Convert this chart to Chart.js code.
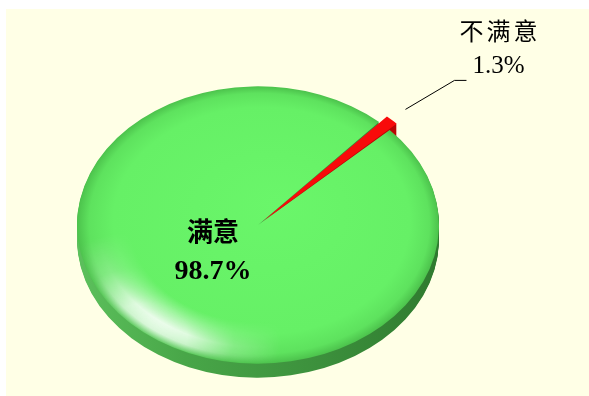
<!DOCTYPE html>
<html>
<head>
<meta charset="utf-8">
<script src="https://cdn.jsdelivr.net/npm/chart.js@4.4.1/dist/chart.umd.min.js"></script>
<style>
  html, body { margin: 0; padding: 0; background: #ffffff; }
  #stage { position: relative; width: 589px; height: 396px; overflow: hidden; background: #ffffff; }
  #paper { position: absolute; left: 6px; top: 9px; right: 0; bottom: 0; background: #FFFFE6; }
  #c { position: absolute; left: 0; top: 0; }
</style>
</head>
<body>
<div id="stage">
  <div id="paper"></div>
  <canvas id="c" width="589" height="396"></canvas>
</div>
<script>
// Survey result: share of respondents
const categories = ['不满意', '满意'];
const shares = [1.3, 98.7];
const shareLabels = ['1.3%', '98.7%'];

// Look of the tilted disc
const PIE_RADIUS = 181;   // horizontal radius in px
const TILT = 0.766;       // vertical squash of the disc
const DEPTH = 14;         // thickness of the disc in px
const START_ANGLE = 42;   // degrees clockwise from 12 o'clock
const topColors = ['#f80a0a', '#66f066'];
const sideColors = ['#b80505', '#3f953f'];

function applyTilt(ctx, cx, cy) {
  ctx.translate(cx, cy);
  ctx.scale(1, TILT);
  ctx.translate(-cx, -cy);
}

function topFill(context) {
  const i = context.dataIndex;
  const chart = context.chart;
  const area = chart.chartArea;
  if (!area || i === 0) return topColors[i];
  const cx = (area.left + area.right) / 2;
  const cy = (area.top + area.bottom) / 2;
  const g = chart.ctx.createRadialGradient(cx + 20, cy - 30, 0, cx, cy, PIE_RADIUS);
  g.addColorStop(0, '#6af66a');
  g.addColorStop(0.82, '#66f066');
  g.addColorStop(0.94, '#5ee25e');
  g.addColorStop(1, '#4cc24c');
  return g;
}

let sheenLayer = null;

const discPlugin = {
  id: 'disc3d',
  beforeDatasetsDraw(chart) {
    const ctx = chart.ctx;
    const meta = chart.getDatasetMeta(0);
    const cx = meta.data[0].x, cy = meta.data[0].y;
    for (let d = DEPTH; d >= 1; d--) {
      ctx.save();
      ctx.translate(0, d);
      applyTilt(ctx, cx, cy);
      meta.data.forEach((arc, i) => {
        let fill = sideColors[i];
        if (i === 1) {
          const g = ctx.createLinearGradient(cx - PIE_RADIUS, 0, cx + PIE_RADIUS, 0);
          g.addColorStop(0, '#5cc05c');
          g.addColorStop(0.3, '#48a648');
          g.addColorStop(0.7, '#3b8e3b');
          g.addColorStop(1, '#2f7a2f');
          fill = g;
        }
        const saved = arc.options;
        arc.options = Object.assign({}, saved, { backgroundColor: fill, borderWidth: 0 });
        arc.draw(ctx);
        arc.options = saved;
      });
      ctx.restore();
    }
    ctx.save();
    applyTilt(ctx, cx, cy);
  },
  afterDatasetsDraw(chart) {
    const ctx = chart.ctx;
    const meta = chart.getDatasetMeta(0);
    const big = meta.data[1];
    const cx = big.x, cy = big.y, R = big.outerRadius;

    ctx.restore(); // end of tilt

    // soft sheen band along the lower-left rim
    if (!sheenLayer) sheenLayer = document.createElement('canvas');
    sheenLayer.width = chart.width;
    sheenLayer.height = chart.height;
    const s = sheenLayer.getContext('2d');
    s.save();
    applyTilt(s, cx, cy);
    const ring = s.createRadialGradient(cx, cy, 0, cx, cy, R);
    ring.addColorStop(0, 'rgba(255,255,255,0)');
    ring.addColorStop(0.7, 'rgba(255,255,255,0)');
    ring.addColorStop(0.88, 'rgba(255,255,255,0.95)');
    ring.addColorStop(0.95, 'rgba(255,255,255,0.8)');
    ring.addColorStop(1, 'rgba(255,255,255,0.15)');
    s.fillStyle = ring;
    s.beginPath();
    s.arc(cx, cy, R, 0, Math.PI * 2);
    s.fill();
    s.globalCompositeOperation = 'destination-in';
    const a = 128 * Math.PI / 180;
    const sx = cx + Math.cos(a) * R, sy = cy + Math.sin(a) * R;
    const mask = s.createRadialGradient(sx, sy, 0, sx, sy, R * 0.75);
    mask.addColorStop(0, 'rgba(0,0,0,1)');
    mask.addColorStop(0.3, 'rgba(0,0,0,0.85)');
    mask.addColorStop(0.65, 'rgba(0,0,0,0.25)');
    mask.addColorStop(1, 'rgba(0,0,0,0)');
    s.fillStyle = mask;
    s.fillRect(cx - R, cy - R, 2 * R, 2 * R);
    s.restore();
    ctx.drawImage(sheenLayer, 0, 0);

    // label of the large slice
    const mid = (big.startAngle + big.endAngle) / 2;
    const lx = cx + Math.cos(mid) * R * 0.34;
    const ly = cy + Math.sin(mid) * R * 0.34 * TILT;
    ctx.save();
    ctx.fillStyle = '#000000';
    ctx.textAlign = 'center';
    ctx.textBaseline = 'middle';
    ctx.font = 'bold 26px "Liberation Serif", "Noto Sans CJK SC"';
    ctx.fillText(categories[1], lx - 2, ly - 24);
    ctx.font = 'bold 28px "Liberation Serif", "Noto Sans CJK SC"';
    ctx.fillText(shareLabels[1], lx - 2, ly + 13);

    // label of the small slice with a leader line
    const small = meta.data[0];
    const m2 = (small.startAngle + small.endAngle) / 2;
    const r2 = R + 30;
    const x0 = cx + Math.cos(m2) * r2;
    const y0 = cy + Math.sin(m2) * r2 * TILT;
    const ex = x0 + 49, ey = y0 - 29;
    ctx.strokeStyle = '#000000';
    ctx.lineWidth = 1;
    ctx.beginPath();
    ctx.moveTo(x0, y0);
    ctx.lineTo(ex, ey);
    ctx.lineTo(ex + 12, ey);
    ctx.stroke();
    const tx = ex + 44;
    ctx.font = '24px "Liberation Serif", "Noto Sans CJK SC"';
    ctx.letterSpacing = '3px';
    ctx.fillText(categories[0], tx + 1.5, ey - 47);
    ctx.letterSpacing = '0px';
    ctx.font = '25px "Liberation Serif", "Noto Sans CJK SC"';
    ctx.fillText(shareLabels[0], tx, ey - 14);
    ctx.restore();
  }
};

new Chart(document.getElementById('c'), {
  type: 'pie',
  data: {
    labels: categories,
    datasets: [{
      data: shares,
      backgroundColor: topFill,
      borderWidth: 0,
      offset: [22, 0],
      radius: PIE_RADIUS,
      clip: false
    }]
  },
  options: {
    responsive: false,
    animation: false,
    rotation: START_ANGLE,
    layout: { padding: { left: 0, right: 73, top: 54, bottom: 0 } },
    plugins: { legend: { display: false }, tooltip: { enabled: false } },
    events: []
  },
  plugins: [discPlugin]
});
</script>
</body>
</html>
